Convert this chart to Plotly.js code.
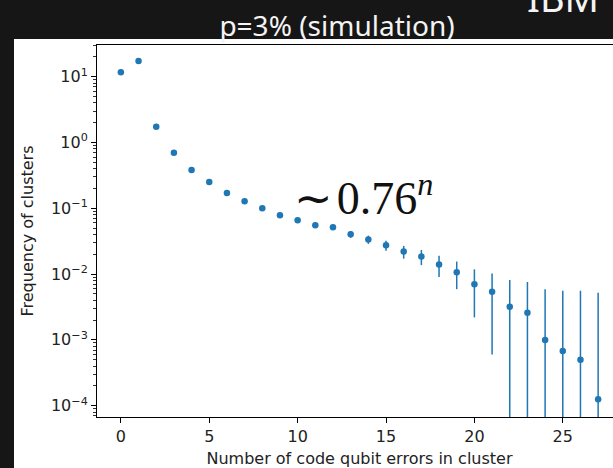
<!DOCTYPE html>
<html><head><meta charset="utf-8">
<script src="https://cdn.plot.ly/plotly-3.0.1.min.js"></script>
<style>
html,body{margin:0;padding:0;background:#161616;overflow:hidden;width:613px;height:468px}
#chart{position:absolute;left:0;top:0;width:660px;height:468px}
</style>
</head><body><div id="chart"></div>
<script>
// ---- data ----
const clusterSize = [0,1,2,3,4,5,6,7,8,9,10,11,12,13,14,15,16,17,18,19,20,21,22,23,24,25,26,27];
const frequency = [11.7, 17.3, 1.74, 0.70, 0.382, 0.251, 0.171, 0.128, 0.100, 0.0783,
                   0.0657, 0.0552, 0.0514, 0.0403, 0.0336, 0.0274, 0.0220, 0.0185, 0.0140, 0.0107,
                   0.0070, 0.0054, 0.0032, 0.00258, 0.00100, 0.00068, 0.00050, 0.000125];
const freqError = [0.005, 0.005, 0.005, 0.005, 0.005, 0.005, 0.005, 0.005, 0.005, 0.005,
                   0.005, 0.005, 0.0048, 0.0048, 0.0048, 0.0048, 0.0048, 0.0048, 0.0050, 0.0048,
                   0.0048, 0.0048, 0.0049, 0.0050, 0.0049, 0.0049, 0.0051, 0.0051];
const xTickVals = [0, 5, 10, 15, 20, 25];
const yTickVals = [1e-4, 1e-3, 1e-2, 1e-1, 1, 10];
const yTickText = ['10<sup>\u22124</sup>', '10<sup>\u22123</sup>', '10<sup>\u22122</sup>',
                   '10<sup>\u22121</sup>', '10<sup>0</sup>', '10<sup>1</sup>'];
const titleText = 'p=3% (simulation)';
const xTitle = 'Number of code qubit errors in cluster';
const yTitle = 'Frequency of clusters';
const fitLabel = '\u223C\u200A0.76<sup><i>n</i></sup>';
const brandText = 'IBM';

// minor log ticks (2..9 per decade)
const minorVals = [];
for (let k = -5; k <= 1; k++) for (let d = 2; d <= 9; d++) minorVals.push(d * Math.pow(10, k));

const W = 660, H = 468, ML = 97, MR = 38, MT = 45, MB = 51;
const PW = W - ML - MR, PH = H - MT - MB;
const px2x = p => (p - ML) / PW;
const py2y = p => 1 - (p - MT) / PH;

const tickFont = {family: 'DejaVu Sans', size: 16, color: '#222'};

const trace = {
  x: clusterSize, y: frequency, type: 'scatter', mode: 'markers',
  marker: {size: 6.5, color: '#1f77b4'},
  error_y: {type: 'data', array: freqError, visible: true, color: '#1f77b4', thickness: 1.5, width: 0},
  hoverinfo: 'skip'
};

const layout = {
  width: W, height: H,
  margin: {l: ML, r: MR, t: MT, b: MB, autoexpand: false},
  paper_bgcolor: '#161616', plot_bgcolor: '#ffffff',
  showlegend: false,
  title: {text: titleText, font: {family: 'Noto Sans', size: 28, color: '#f4f4f4'},
          xref: 'container', yref: 'container', x: 337 / W, xanchor: 'center', y: 1 - 26 / H, yanchor: 'middle'},
  xaxis: {
    range: [-1.35, 28.35], tickmode: 'array', tickvals: xTickVals,
    showline: true, mirror: true, linecolor: '#000', linewidth: 1,
    ticks: 'outside', ticklen: 5, tickwidth: 1, tickcolor: '#000',
    showgrid: false, zeroline: false, tickfont: tickFont,
    title: {text: xTitle, font: tickFont, standoff: 10}, automargin: false
  },
  yaxis: {
    type: 'log', range: [-4.172, 1.482], tickmode: 'array', tickvals: yTickVals, ticktext: yTickText,
    showline: true, mirror: true, linecolor: '#000', linewidth: 1,
    ticks: 'outside', ticklen: 5, tickwidth: 1, tickcolor: '#000',
    minor: {tickmode: 'array', tickvals: minorVals, ticks: 'outside', ticklen: 3, tickwidth: 0.8, tickcolor: '#000', showgrid: false},
    showgrid: false, zeroline: false, tickfont: tickFont,
    title: {text: yTitle, font: tickFont, standoff: 13}, automargin: false
  },
  shapes: [{type: 'rect', xref: 'paper', yref: 'paper', layer: 'below',
            x0: px2x(14), x1: px2x(W + 10), y0: py2y(H + 10), y1: py2y(39),
            fillcolor: '#ffffff', line: {width: 0}}],
  annotations: [
    {text: fitLabel, xref: 'x', yref: 'y', x: 9.7, y: -0.80, xanchor: 'left', yanchor: 'middle',
     showarrow: false, font: {family: 'Liberation Serif', size: 46, color: '#111'}},
    {text: brandText, xref: 'paper', yref: 'paper', x: px2x(525), y: py2y(25), xanchor: 'left', yanchor: 'bottom',
     showarrow: false, font: {family: 'Noto Sans', size: 38, color: '#f4f4f4'}}
  ]
};

Plotly.newPlot('chart', [trace], layout, {staticPlot: true, displayModeBar: false});
</script>
</body></html>
